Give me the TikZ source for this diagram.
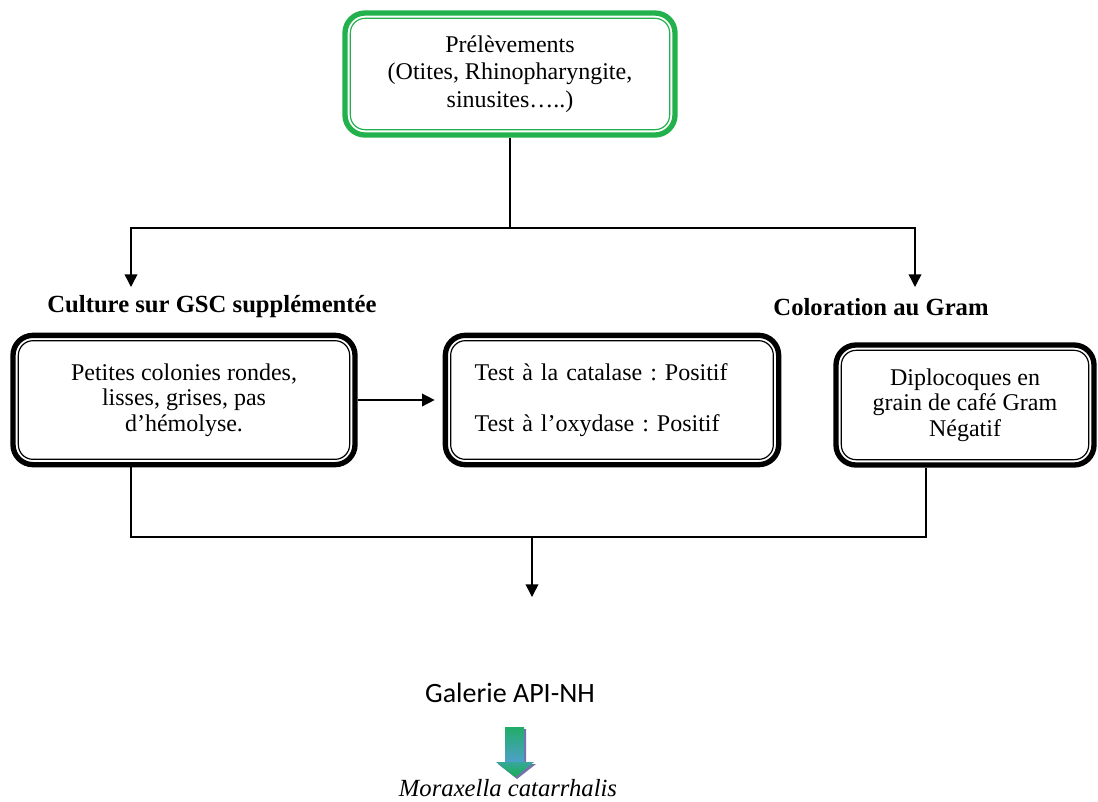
\documentclass[tikz,border=0pt]{standalone}
\usepackage{fontspec}
\setmainfont{Liberation Serif}
\newfontfamily\calibri{Carlito}
\usetikzlibrary{arrows.meta}
\definecolor{prelgreen}{RGB}{34,177,76}
\definecolor{arrgreen}{RGB}{22,176,80}
\definecolor{arrblue}{RGB}{78,160,205}
\frenchspacing

\begin{document}
\begin{tikzpicture}[x=0.75pt, y=-0.75pt,
    txt/.style={font=\fontsize{18}{19}\selectfont},
    box/.style={txt, draw, line width=4pt, rounded corners=15pt, align=center},
    inner/.style={line width=0.9pt, rounded corners=11pt},
    link/.style={line width=1.1pt},
    arrow/.style={line width=1.1pt, -{Triangle[width=9.5pt,length=9.5pt]}}]
\useasboundingbox (0,0) rectangle (1098,801);

% boites
\node[box, prelgreen, text=black, font=\fontsize{18}{20.5}\selectfont,
    minimum width=247.5pt, minimum height=91.5pt] (prel) at (510,74)
    {Prélèvements\\(Otites, Rhinopharyngite,\\sinusites…..)};
\node[box, minimum width=256.5pt, minimum height=97pt] (culture) at (184,400)
    {Petites colonies rondes,\\lisses, grises, pas\\d'hémolyse.};
\node[box, align=left, text width=206pt, minimum width=250pt, minimum height=97pt] (tests) at (612,400)
    {\raggedright Test à la catalase : Positif\\[19pt]Test à l'oxydase : Positif};
\node[box, minimum width=193.5pt, minimum height=90pt] (diplo) at (965,405)
    {Diplocoques en\\grain de café Gram\\Négatif};
\draw[inner, prelgreen] ([shift={(6pt,-6pt)}]prel.north west) rectangle ([shift={(-6pt,6pt)}]prel.south east);
\foreach \n in {culture,tests,diplo}
    \draw[inner] ([shift={(6pt,-6pt)}]\n.north west) rectangle ([shift={(-6pt,6pt)}]\n.south east);

% titres
\node[txt, font=\fontsize{18.5}{19}\selectfont\bfseries] (cultlbl) at (212,307) {Culture sur GSC supplémentée};
\node[txt, font=\fontsize{18.5}{19}\selectfont\bfseries] (gramlbl) at (881,307) {Coloration au Gram};
\node[font=\calibri\fontsize{21}{24}\selectfont] (galerie) at (510,693) {Galerie API-NH};
\node[font=\fontsize{18.5}{20}\selectfont\itshape, inner sep=1pt, anchor=base] (morax) at (508,796) {Moraxella catarrhalis};

% liaisons
\coordinate (split) at (510,228);
\coordinate (leftend) at (131,287);
\coordinate (rightend) at (915,287);
\coordinate (ljoin) at (131,537);
\coordinate (rjoin) at (926,537);
\coordinate (merge) at (532,537);
\coordinate (galtop) at (532,597);
\draw[link] (prel.south) -- (split);
\draw[arrow] (split) -| (leftend);
\draw[arrow] (split) -| (rightend);
\draw[arrow, shorten >=6pt] (culture.east) -- (tests.west);
\draw[link] (culture.south -| ljoin) -- (ljoin) -- (rjoin) -- (diplo.south -| rjoin);
\draw[arrow] (merge) -- (galtop);

% fleche verte
\fill[black!60!blue, opacity=0.55] (507,729) -- (526,729) -- (526,764) -- (536,764) -- (517,779) -- (498,764) -- (507,764) -- cycle;
\shade[top color=arrgreen!80!arrblue, bottom color=arrblue] (505,727) rectangle (524,763);
\shade[top color=arrblue!60!arrgreen, bottom color=arrgreen]
    (496,762) -- (534,762) -- (515,777) -- cycle;
\end{tikzpicture}
\end{document}
